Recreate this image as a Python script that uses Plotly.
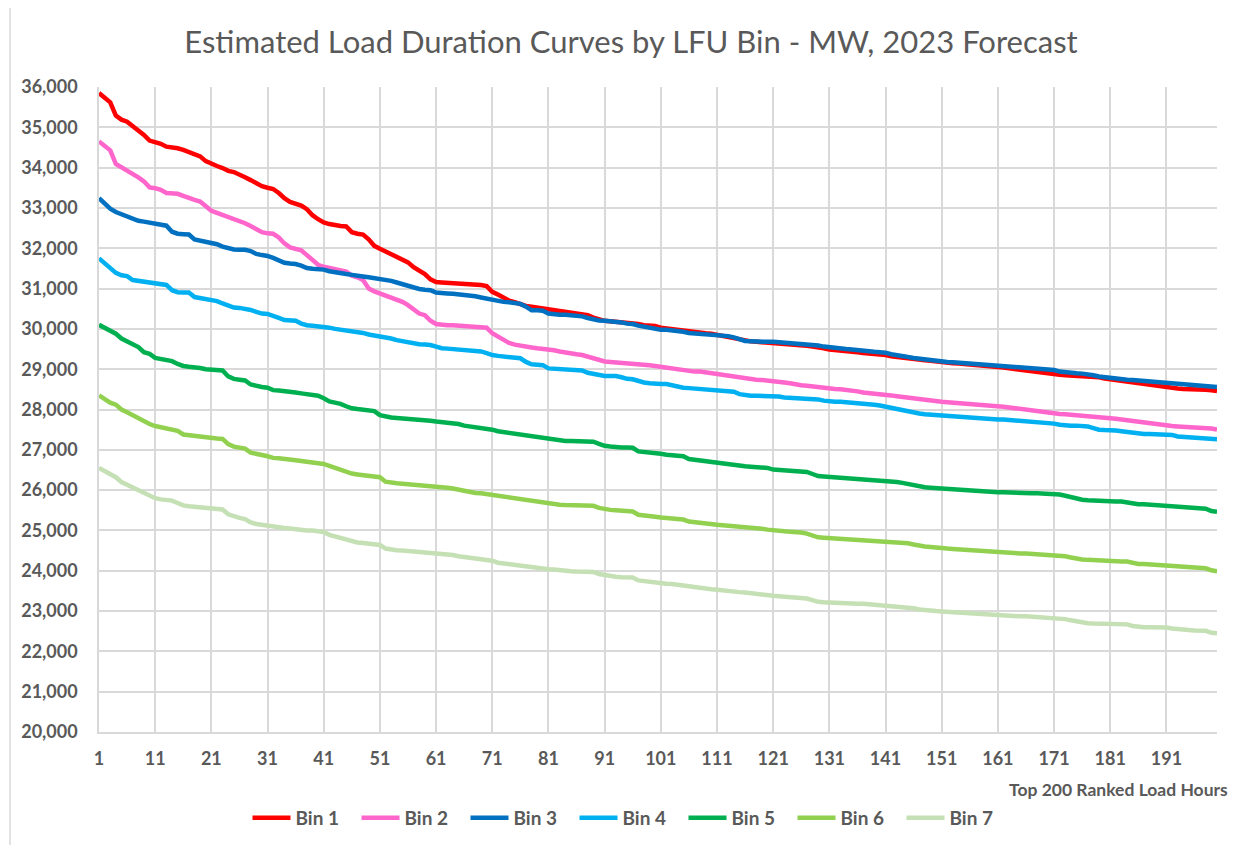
import plotly.graph_objects as go

hours = list(range(1, 201))
tick_hours = list(range(1, 200, 10))
tick_labels = [str(h) for h in tick_hours]
y_ticks = list(range(20000, 36001, 1000))
y_tick_labels = [f"{v:,}" for v in y_ticks]

series_names = ["Bin 1", "Bin 2", "Bin 3", "Bin 4", "Bin 5", "Bin 6", "Bin 7"]
series_colors = ["#FF0000", "#FF66CC", "#0070C0", "#00B0F0", "#00B050", "#92D050", "#C5E0B4"]

bin1 = [
    35850, 35730, 35620, 35290, 35190, 35140, 35040, 34940, 34810, 34670,
    34640, 34590, 34520, 34510, 34480, 34440, 34380, 34350, 34280, 34160,
    34090, 34040, 33990, 33920, 33890, 33810, 33760, 33690, 33610, 33540,
    33500, 33470, 33370, 33240, 33150, 33110, 33060, 32970, 32820, 32720,
    32640, 32600, 32570, 32550, 32540, 32400, 32360, 32340, 32220, 32060,
    31990, 31920, 31870, 31790, 31740, 31650, 31530, 31440, 31360, 31230,
    31160, 31150, 31140, 31140, 31135, 31130, 31120, 31100, 31090, 31060,
    30920, 30850, 30760, 30700, 30660, 30610, 30570, 30550, 30530, 30520,
    30490, 30470, 30450, 30440, 30420, 30400, 30370, 30340, 30280, 30230,
    30200, 30190, 30180, 30170, 30160, 30140, 30120, 30090, 30080, 30070,
    30030, 30010, 29990, 29980, 29970, 29950, 29930, 29910, 29890, 29880,
    29850, 29830, 29800, 29770, 29740, 29700, 29690, 29680, 29670, 29660,
    29650, 29640, 29640, 29620, 29600, 29590, 29580, 29560, 29550, 29520,
    29490, 29480, 29470, 29460, 29450, 29420, 29400, 29390, 29380, 29370,
    29350, 29320, 29300, 29280, 29260, 29240, 29230, 29220, 29210, 29190,
    29170, 29160, 29150, 29140, 29130, 29120, 29100, 29090, 29080, 29070,
    29050, 29040, 29020, 29000, 28980, 28970, 28950, 28940, 28920, 28900,
    28880, 28860, 28850, 28840, 28840, 28830, 28830, 28820, 28800, 28770,
    28750, 28730, 28710, 28690, 28670, 28650, 28630, 28610, 28580, 28560,
    28540, 28530, 28520, 28510, 28510, 28500, 28500, 28490, 28480, 28460,
]

bin2 = [
    34650, 34540, 34430, 34090, 34010, 33950, 33860, 33760, 33660, 33510,
    33490, 33450, 33370, 33370, 33350, 33300, 33240, 33200, 33160, 33030,
    32930, 32880, 32830, 32770, 32740, 32670, 32620, 32550, 32470, 32400,
    32370, 32360, 32270, 32120, 32020, 31990, 31950, 31830, 31710, 31590,
    31540, 31510, 31480, 31450, 31420, 31320, 31280, 31210, 31000, 30930,
    30880, 30810, 30750, 30710, 30670, 30590, 30480, 30380, 30340, 30200,
    30120, 30100, 30090, 30090, 30080, 30080, 30070, 30070, 30050, 30030,
    29890, 29800, 29720, 29650, 29610, 29580, 29560, 29540, 29520, 29510,
    29490, 29470, 29440, 29410, 29400, 29370, 29350, 29310, 29260, 29220,
    29190, 29180, 29170, 29170, 29160, 29150, 29130, 29110, 29100, 29080,
    29060, 29040, 29010, 28990, 28980, 28960, 28940, 28940, 28920, 28900,
    28870, 28840, 28820, 28800, 28780, 28760, 28750, 28740, 28730, 28720,
    28700, 28690, 28670, 28650, 28620, 28600, 28590, 28570, 28550, 28540,
    28520, 28510, 28500, 28490, 28480, 28450, 28420, 28410, 28400, 28390,
    28370, 28350, 28330, 28310, 28290, 28270, 28260, 28240, 28230, 28210,
    28190, 28180, 28170, 28160, 28160, 28150, 28140, 28120, 28110, 28100,
    28090, 28070, 28050, 28030, 28010, 27990, 27970, 27960, 27940, 27920,
    27900, 27890, 27880, 27870, 27860, 27850, 27840, 27830, 27810, 27800,
    27790, 27770, 27750, 27730, 27710, 27690, 27670, 27650, 27630, 27620,
    27610, 27590, 27580, 27570, 27570, 27560, 27560, 27550, 27530, 27500,
]

bin3 = [
    33240, 33100, 32980, 32900, 32840, 32800, 32720, 32680, 32660, 32640,
    32610, 32590, 32560, 32410, 32360, 32350, 32340, 32220, 32190, 32160,
    32140, 32100, 32040, 32000, 31970, 31960, 31960, 31930, 31860, 31830,
    31810, 31760, 31690, 31640, 31620, 31610, 31570, 31510, 31490, 31480,
    31470, 31430, 31400, 31390, 31360, 31340, 31330, 31300, 31280, 31260,
    31240, 31200, 31190, 31150, 31110, 31070, 31010, 30990, 30970, 30960,
    30900, 30880, 30880, 30870, 30860, 30850, 30830, 30810, 30780, 30750,
    30710, 30700, 30670, 30660, 30640, 30620, 30550, 30460, 30460, 30450,
    30380, 30360, 30350, 30350, 30340, 30330, 30310, 30270, 30230, 30210,
    30200, 30190, 30180, 30160, 30130, 30120, 30080, 30050, 30020, 30000,
    29980, 29980, 29970, 29950, 29930, 29900, 29890, 29890, 29880, 29870,
    29860, 29840, 29820, 29790, 29740, 29700, 29690, 29680, 29680, 29680,
    29680, 29670, 29660, 29650, 29630, 29620, 29620, 29610, 29590, 29560,
    29540, 29520, 29510, 29500, 29490, 29470, 29460, 29440, 29430, 29420,
    29410, 29370, 29340, 29320, 29300, 29280, 29260, 29240, 29220, 29210,
    29190, 29180, 29170, 29160, 29150, 29130, 29120, 29110, 29100, 29090,
    29080, 29070, 29060, 29040, 29030, 29030, 29020, 29010, 29000, 28990,
    28980, 28940, 28920, 28910, 28900, 28890, 28880, 28850, 28820, 28800,
    28790, 28780, 28760, 28740, 28730, 28720, 28700, 28690, 28670, 28660,
    28650, 28640, 28640, 28630, 28630, 28620, 28610, 28600, 28580, 28560,
]

bin4 = [
    31750, 31630, 31490, 31390, 31330, 31310, 31210, 31190, 31180, 31160,
    31150, 31120, 31090, 30960, 30910, 30900, 30900, 30790, 30760, 30740,
    30720, 30690, 30630, 30570, 30530, 30520, 30500, 30470, 30420, 30380,
    30370, 30330, 30270, 30220, 30210, 30200, 30130, 30090, 30080, 30070,
    30050, 30030, 30000, 29980, 29970, 29950, 29940, 29900, 29860, 29840,
    29820, 29790, 29760, 29720, 29690, 29660, 29630, 29620, 29610, 29600,
    29560, 29520, 29510, 29500, 29490, 29490, 29470, 29460, 29440, 29400,
    29350, 29330, 29310, 29300, 29280, 29270, 29180, 29120, 29110, 29100,
    29020, 29010, 29010, 29000, 28990, 28980, 28970, 28910, 28880, 28840,
    28830, 28830, 28830, 28800, 28760, 28750, 28700, 28670, 28650, 28630,
    28630, 28630, 28600, 28560, 28540, 28530, 28520, 28510, 28510, 28500,
    28490, 28470, 28460, 28440, 28380, 28350, 28340, 28340, 28340, 28340,
    28330, 28320, 28300, 28290, 28290, 28280, 28280, 28270, 28250, 28220,
    28200, 28190, 28190, 28180, 28180, 28160, 28140, 28130, 28120, 28100,
    28070, 28030, 28000, 27980, 27950, 27920, 27900, 27880, 27870, 27850,
    27840, 27830, 27820, 27810, 27800, 27780, 27770, 27760, 27760, 27760,
    27750, 27750, 27740, 27720, 27710, 27700, 27690, 27690, 27670, 27660,
    27650, 27620, 27600, 27600, 27600, 27590, 27580, 27540, 27500, 27490,
    27490, 27480, 27460, 27440, 27420, 27400, 27390, 27390, 27380, 27380,
    27380, 27370, 27330, 27320, 27310, 27300, 27300, 27280, 27270, 27260,
]

bin5 = [
    30100, 30020, 29940, 29880, 29760, 29680, 29620, 29550, 29420, 29380,
    29280, 29250, 29240, 29200, 29130, 29080, 29060, 29050, 29030, 29000,
    28990, 28980, 28970, 28820, 28760, 28740, 28720, 28620, 28580, 28560,
    28540, 28480, 28470, 28460, 28440, 28420, 28400, 28380, 28370, 28340,
    28280, 28200, 28170, 28140, 28080, 28030, 28010, 27990, 27970, 27960,
    27860, 27820, 27800, 27790, 27780, 27780, 27770, 27760, 27750, 27720,
    27700, 27690, 27680, 27670, 27640, 27600, 27580, 27560, 27540, 27530,
    27500, 27460, 27440, 27420, 27400, 27380, 27350, 27320, 27300, 27280,
    27260, 27240, 27230, 27220, 27220, 27210, 27210, 27200, 27200, 27150,
    27100, 27080, 27060, 27060, 27060, 27050, 26960, 26950, 26930, 26910,
    26900, 26880, 26860, 26850, 26840, 26770, 26750, 26730, 26710, 26690,
    26670, 26660, 26650, 26630, 26610, 26590, 26580, 26570, 26560, 26550,
    26510, 26500, 26500, 26490, 26480, 26470, 26450, 26400, 26350, 26340,
    26330, 26320, 26310, 26300, 26290, 26280, 26270, 26260, 26250, 26250,
    26240, 26220, 26200, 26180, 26150, 26110, 26090, 26070, 26060, 26050,
    26040, 26020, 26010, 26000, 25990, 25980, 25970, 25970, 25960, 25960,
    25950, 25950, 25940, 25930, 25930, 25920, 25920, 25920, 25910, 25910,
    25910, 25890, 25860, 25820, 25780, 25760, 25750, 25740, 25740, 25730,
    25730, 25720, 25720, 25700, 25660, 25650, 25650, 25640, 25630, 25630,
    25620, 25600, 25580, 25570, 25560, 25550, 25550, 25540, 25480, 25460,
]

bin6 = [
    28350, 28250, 28170, 28120, 28000, 27930, 27860, 27790, 27690, 27640,
    27590, 27560, 27540, 27520, 27470, 27380, 27360, 27350, 27330, 27300,
    27290, 27280, 27270, 27140, 27080, 27060, 27030, 26930, 26890, 26870,
    26840, 26800, 26790, 26780, 26770, 26740, 26720, 26700, 26690, 26680,
    26650, 26600, 26550, 26520, 26470, 26410, 26390, 26370, 26350, 26330,
    26320, 26210, 26180, 26170, 26160, 26150, 26140, 26130, 26120, 26100,
    26090, 26070, 26060, 26040, 26010, 25990, 25950, 25930, 25920, 25900,
    25880, 25850, 25830, 25810, 25790, 25770, 25750, 25720, 25700, 25680,
    25670, 25650, 25640, 25630, 25630, 25620, 25620, 25620, 25610, 25560,
    25530, 25510, 25500, 25490, 25480, 25470, 25390, 25380, 25360, 25340,
    25320, 25310, 25300, 25280, 25270, 25220, 25200, 25180, 25170, 25160,
    25140, 25130, 25120, 25110, 25090, 25080, 25070, 25060, 25040, 25020,
    25000, 24990, 24980, 24970, 24970, 24950, 24920, 24880, 24830, 24820,
    24810, 24800, 24790, 24790, 24780, 24780, 24770, 24760, 24750, 24740,
    24730, 24720, 24700, 24690, 24680, 24650, 24620, 24600, 24590, 24570,
    24560, 24550, 24540, 24530, 24520, 24510, 24500, 24480, 24480, 24480,
    24470, 24460, 24450, 24440, 24430, 24430, 24420, 24420, 24420, 24410,
    24400, 24380, 24360, 24330, 24300, 24280, 24270, 24260, 24250, 24250,
    24240, 24240, 24230, 24230, 24190, 24170, 24170, 24160, 24160, 24150,
    24140, 24120, 24100, 24090, 24080, 24070, 24060, 24060, 24010, 23990,
]

bin7 = [
    26550, 26480, 26400, 26320, 26200, 26130, 26080, 26010, 25920, 25880,
    25800, 25770, 25750, 25740, 25680, 25620, 25600, 25590, 25570, 25560,
    25550, 25540, 25520, 25400, 25340, 25310, 25280, 25200, 25160, 25140,
    25110, 25080, 25070, 25060, 25050, 25030, 25010, 25000, 25000, 24990,
    24960, 24890, 24850, 24820, 24770, 24730, 24700, 24690, 24670, 24660,
    24640, 24550, 24520, 24510, 24500, 24490, 24480, 24470, 24460, 24450,
    24430, 24420, 24410, 24390, 24360, 24340, 24320, 24300, 24280, 24270,
    24250, 24200, 24180, 24160, 24150, 24130, 24110, 24080, 24060, 24050,
    24040, 24030, 24010, 24000, 23990, 23980, 23980, 23970, 23970, 23920,
    23890, 23870, 23850, 23840, 23840, 23830, 23760, 23740, 23730, 23710,
    23700, 23680, 23670, 23650, 23640, 23600, 23590, 23570, 23560, 23540,
    23530, 23510, 23500, 23490, 23470, 23460, 23440, 23430, 23410, 23400,
    23380, 23370, 23360, 23350, 23350, 23340, 23310, 23270, 23230, 23220,
    23210, 23210, 23200, 23200, 23190, 23180, 23180, 23170, 23160, 23150,
    23140, 23130, 23120, 23100, 23090, 23070, 23040, 23020, 23010, 23000,
    22990, 22980, 22970, 22960, 22950, 22940, 22930, 22920, 22910, 22910,
    22900, 22890, 22890, 22880, 22870, 22870, 22860, 22860, 22850, 22850,
    22840, 22830, 22800, 22770, 22740, 22710, 22700, 22690, 22690, 22680,
    22680, 22670, 22670, 22670, 22630, 22610, 22600, 22600, 22600, 22590,
    22590, 22570, 22550, 22540, 22530, 22520, 22510, 22510, 22460, 22450,
]

all_series = [bin1, bin2, bin3, bin4, bin5, bin6, bin7]

FONT = "Lato"
GREY = "#595959"
GRID = "#D9D9D9"

fig = go.Figure()
for name, color, vals in zip(series_names, series_colors, all_series):
    fig.add_trace(go.Scatter(
        x=hours, y=vals, name=name, mode="lines",
        line=dict(color=color, width=4.5),
    ))

# page body adds an 8px offset; work in screen pixels and convert
OFF = 8
W, H = 1238 - OFF, 845 - OFF
PL, PR, PT, PB = 99, 1217, 87, 732          # plot area in screen pixels
L, R, T, B = PL - OFF, W - (PR - OFF), PT - OFF, H - (PB - OFF)
pw, ph = W - L - R, H - T - B

def px_x(p):
    return (p - PL) / pw

def px_y(p):
    return (PB - p) / ph

fig.update_layout(
    width=W, height=H,
    margin=dict(l=L, r=R, t=T, b=B, autoexpand=False),
    paper_bgcolor="white", plot_bgcolor="white",
    font=dict(family=FONT, color=GREY),
    title=dict(
        text="Estimated Load Duration Curves by LFU Bin - MW, 2023 Forecast",
        font=dict(family=FONT, size=31, color=GREY),
        xref="container", yref="container",
        x=(631 - OFF) / W, y=1 - (42 - OFF) / H, xanchor="center", yanchor="middle",
    ),
    xaxis=dict(
        range=[1, 200], tickmode="array", tickvals=tick_hours, ticktext=tick_labels,
        showgrid=True, gridcolor=GRID, gridwidth=1.5,
        showline=True, linecolor=GRID, linewidth=1.5,
        ticks="", ticklabelstandoff=10,
        tickfont=dict(family=FONT, size=18, color=GREY, weight="bold"),
        zeroline=False,
    ),
    yaxis=dict(
        range=[20000, 36000], tickmode="array", tickvals=y_ticks, ticktext=y_tick_labels,
        showgrid=True, gridcolor=GRID, gridwidth=1.5,
        showline=True, linecolor=GRID, linewidth=1.5,
        ticks="", ticklabelstandoff=16,
        tickfont=dict(family=FONT, size=18, color=GREY, weight="bold"),
        zeroline=False,
    ),
    legend=dict(
        orientation="h", xref="paper", yref="paper",
        x=px_x(629), y=px_y(818), xanchor="center", yanchor="middle",
        font=dict(family=FONT, size=19, color=GREY, weight="bold"),
        bgcolor="rgba(0,0,0,0)", traceorder="normal",
        itemwidth=38, entrywidth=56,
    ),
    showlegend=True,
)

fig.add_annotation(
    text="Top 200 Ranked Load Hours", xref="paper", yref="paper",
    x=px_x(1230), y=px_y(789), xanchor="right", yanchor="middle",
    showarrow=False, font=dict(family=FONT, size=17.5, color=GREY, weight="bold"),
)

fig.add_shape(
    type="rect", xref="paper", yref="paper",
    x0=px_x(10), y0=-0.5, x1=1.2, y1=px_y(6.5),
    line=dict(color=GRID, width=1.5), fillcolor="rgba(0,0,0,0)", layer="below",
)

fig.write_html("out.html")
